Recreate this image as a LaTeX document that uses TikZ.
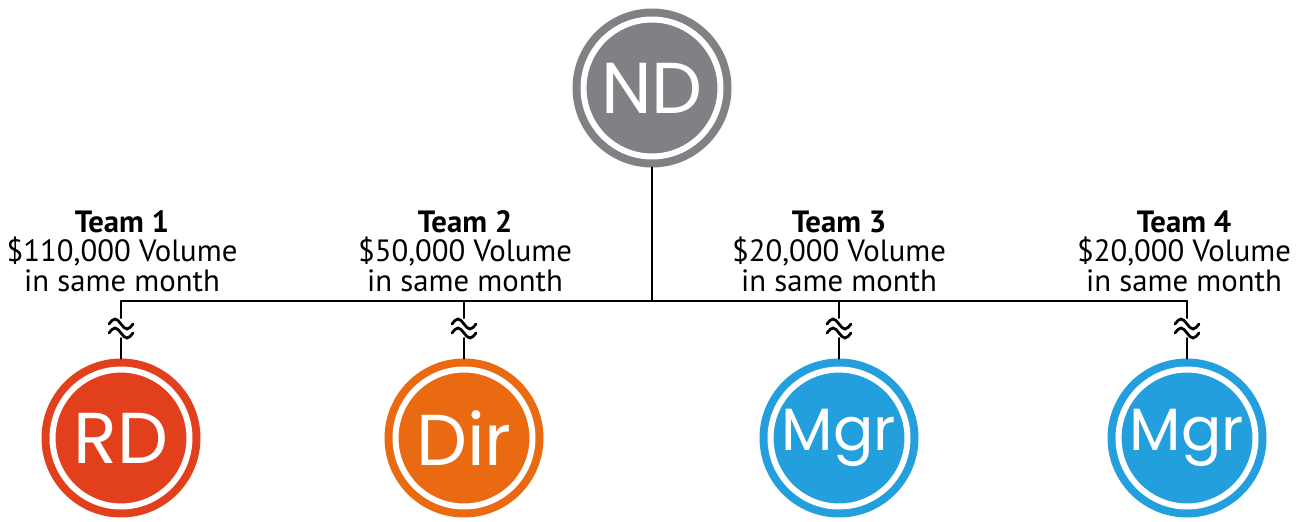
\documentclass[tikz,border=0pt]{standalone}
\usepackage{fontspec}
\setmainfont{PT Sans}
\newfontfamily\badgefont{Poppins}
\usetikzlibrary{positioning,calc}
\definecolor{ndgray}{HTML}{808184}
\definecolor{rdred}{HTML}{E2401C}
\definecolor{dirorange}{HTML}{E96A10}
\definecolor{mgrblue}{HTML}{249FDE}

\begin{document}
\begin{tikzpicture}[
  x=0.02cm, y=-0.02cm,
  badge/.style={circle, fill=#1, draw=white, line width=0.12cm, minimum size=2.74cm, inner sep=0pt, outer sep=0.22cm, preaction={draw=#1, line width=0.44cm}, text=white, font=\badgefont\fontsize{41}{41}\selectfont},
  small/.style={font=\badgefont\fontsize{34}{34}\selectfont},
  team/.style={align=center, inner sep=0pt, font=\fontsize{17.5}{16.8}\selectfont},
  wire/.style={line width=0.04cm, line cap=round},
  tilde/.style={line width=0.055cm, line cap=round}
]
\useasboundingbox (0,0) rectangle (1304,521);

% top of the tree
\node[badge=ndgray] (nd) at (652,88) {ND};
\coordinate (bus) at (652,301);

% the four teams
\node[badge=rdred] (rd) at (121,438) {RD};
\node[badge=dirorange] (dir) at (464,438) {Dir};
\node[badge=mgrblue, small] (mgrA) at (839,438) {Mgr};
\node[badge=mgrblue, small] (mgrB) at (1187,438) {Mgr};

\node[team] (team1) at (122,251) {\textbf{Team 1}\\\$110,000 Volume\\in same month};
\node[team] (team2) at (465,251) {\textbf{Team 2}\\\$50,000 Volume\\in same month};
\node[team] (team3) at (839,251) {\textbf{Team 3}\\\$20,000 Volume\\in same month};
\node[team] (team4) at (1184,251) {\textbf{Team 4}\\\$20,000 Volume\\in same month};

\draw[wire] (nd.south) -- (bus);
\draw[wire] (rd |- bus) -- (mgrB |- bus);

\foreach \n in {rd,dir,mgrA,mgrB} {
  \draw[wire] (\n |- bus) -- ++(0,17);
  \draw[tilde] ($(\n |- bus)+(-12,23)$) sin ++(6,-5) cos ++(6,5) sin ++(6,5) cos ++(6,-5);
  \draw[tilde] ($(\n |- bus)+(-12,32)$) sin ++(6,-5) cos ++(6,5) sin ++(6,5) cos ++(6,-5);
  \draw[wire] ($(\n |- bus)+(0,37)$) -- (\n.north);
}
\end{tikzpicture}
\end{document}
